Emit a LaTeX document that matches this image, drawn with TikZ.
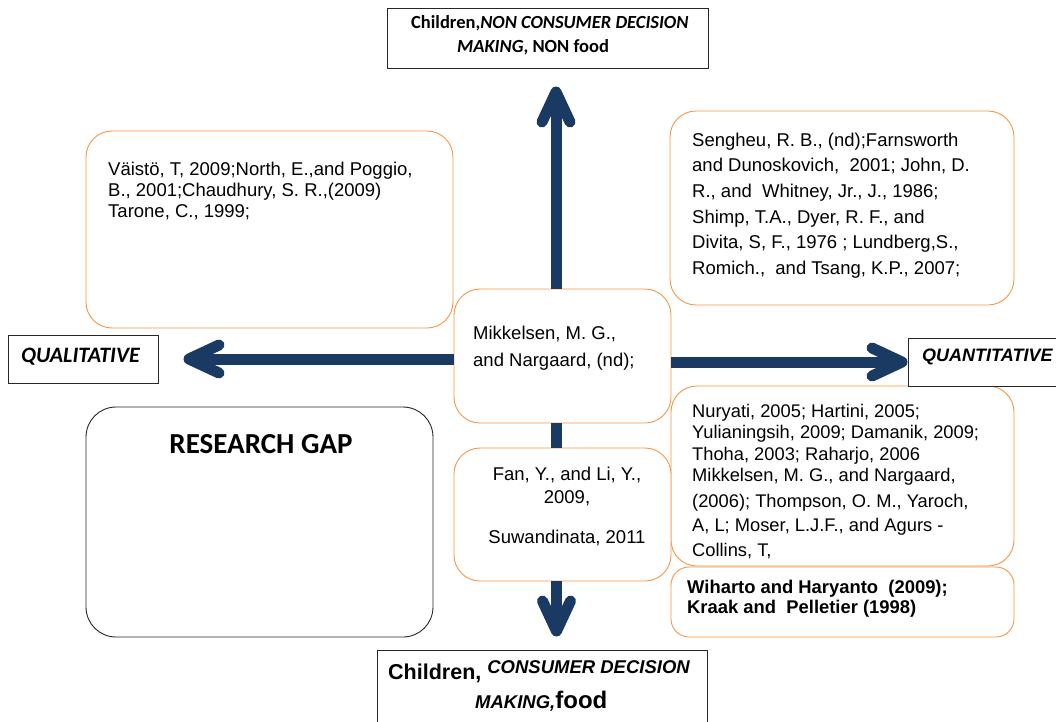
\documentclass[tikz,border=0pt]{standalone}
\usepackage{fontspec}
\setmainfont{Liberation Sans}
\newfontfamily\calibri{Carlito}
\usetikzlibrary{arrows.meta,calc}
\definecolor{ArrowClr}{RGB}{26,58,100}
\definecolor{BoxClr}{RGB}{247,150,70}

\begin{document}
\begin{tikzpicture}[x=1pt,y=-1pt,
  refbox/.style={draw=BoxClr,line width=0.9pt,rounded corners=26pt,fill=white,inner sep=0pt},
  gapbox/.style={draw=black!85,line width=0.9pt,rounded corners=30pt,inner sep=0pt},
  axisbox/.style={draw=black!85,line width=1pt,fill=white,inner sep=0pt},
  reftxt/.style={inner sep=0pt,align=left,anchor=base west},
  bigarrow/.style={draw=ArrowClr,line width=11pt,-{Straight Barb[length=30pt,width=28pt,round]}},
  shaft/.style={draw=ArrowClr,line width=11pt}]

\useasboundingbox (0,0) rectangle (1056,721);

\node[refbox,minimum width=367pt,minimum height=197pt] (L) at (269.5,229.5) {};
\node[refbox,minimum width=344pt,minimum height=194pt] (R) at (842,208) {};
\node[refbox,minimum width=343pt,minimum height=180pt] (S) at (842.5,476) {};
\node[refbox,minimum width=343pt,minimum height=70pt,rounded corners=18pt] (W) at (842.5,602) {};
\node[refbox,minimum width=217pt,minimum height=134pt] (M) at (562.5,356) {};
\node[refbox,minimum width=217pt,minimum height=133pt] (F) at (562.5,514.5) {};
\node[gapbox,minimum width=347pt,minimum height=230pt] (G) at (259.5,522) {};

\node[axisbox,minimum width=321pt,minimum height=60pt] (T) at (547.5,38) {};
\node[axisbox,minimum width=150pt,minimum height=48pt] (Q) at (83,359) {};
\node[axisbox,minimum width=160pt,minimum height=48pt] (N) at (988,362) {};
\node[axisbox,minimum width=330pt,minimum height=90pt] (B) at (542,695) {};

\draw[bigarrow,shorten >=18pt] ([xshift=-6.5pt]M.north) -- ([xshift=-6.5pt]M.north |- T.south);
\draw[shaft] ([xshift=-6.5pt]M.south) -- ([xshift=-6.5pt]F.north);
\draw[bigarrow,shorten >=13pt] ([xshift=-6pt]F.south) -- ([xshift=-6pt]F.south |- B.north);
\draw[bigarrow,shorten >=25pt] (M.west |- Q.east) -- (Q.east);
\draw[bigarrow] (M.east |- N.west) -- (N.west);

\node[reftxt,font=\fontsize{18.5}{21}\selectfont] (Lt) at (108,217)
  {Väistö, T, 2009;North, E.,and Poggio,\\B., 2001;Chaudhury, S. R.,(2009)\\Tarone, C., 1999;};
\node[reftxt,font=\fontsize{18.5}{25.7}\selectfont] (Rt) at (692,274.5)
  {Sengheu, R. B., (nd);Farnsworth\\and Dunoskovich,\ \ 2001; John, D.\\R., and\ \ Whitney, Jr., J., 1986;\\Shimp, T.A., Dyer, R. F., and\\Divita, S, F., 1976 ; Lundberg,S.,\\Romich.,\ \ and Tsang, K.P., 2007;};
\node[reftxt,font=\fontsize{18.5}{27}\selectfont] (Mt) at (473,366)
  {Mikkelsen, M. G.,\\and Nargaard, (nd);};
\node[reftxt,align=center,anchor=base,font=\fontsize{18.5}{23}\selectfont] (Ft) at (567,543)
  {Fan, Y., and Li, Y.,\\2009,\\[17pt]Suwandinata, 2011};
\node[reftxt,font=\fontsize{18.3}{21.5}\selectfont] (St) at (692,556)
  {Nuryati, 2005; Hartini, 2005;\\Yulianingsih, 2009; Damanik, 2009;\\Thoha, 2003; Raharjo, 2006\\Mikkelsen, M. G., and Nargaard,\\[4pt](2006); Thompson, O. M., Yaroch,\\[3pt]A, L; Moser, L.J.F., and Agurs -\\[3pt]Collins, T,};
\node[reftxt,font=\fontsize{18.4}{20}\selectfont\bfseries] (Wt) at (687,613)
  {Wiharto and Haryanto\ \ (2009);\\Kraak and\ \ Pelletier (1998)};

\node[reftxt,anchor=base,font=\calibri\fontsize{29}{30}\selectfont\bfseries] (Gt) at (261,453) {RESEARCH GAP};
\node[reftxt,font=\calibri\fontsize{18.5}{24}\selectfont\bfseries] (Tt) at (411,52)
  {Children,\textit{NON CONSUMER DECISION}\\\hspace*{46pt}\textit{MAKING}, NON food};
\node[reftxt,font=\calibri\fontsize{22}{24}\selectfont\bfseries\itshape] (Qt) at (21,362) {QUALITATIVE};
\node[reftxt,font=\fontsize{18}{20}\selectfont\bfseries\itshape] (Nt) at (922,361) {QUANTITATIVE};
\node[reftxt,font=\fontsize{21.5}{29}\selectfont\bfseries] (Bt) at (388,708)
  {Children,\ \raisebox{6pt}{\fontsize{18.5}{20}\selectfont\itshape CONSUMER DECISION}\\\hspace*{87pt}{\fontsize{18.5}{20}\selectfont\itshape MAKING,}\fontsize{24}{29}\selectfont food};

\end{tikzpicture}
\end{document}
